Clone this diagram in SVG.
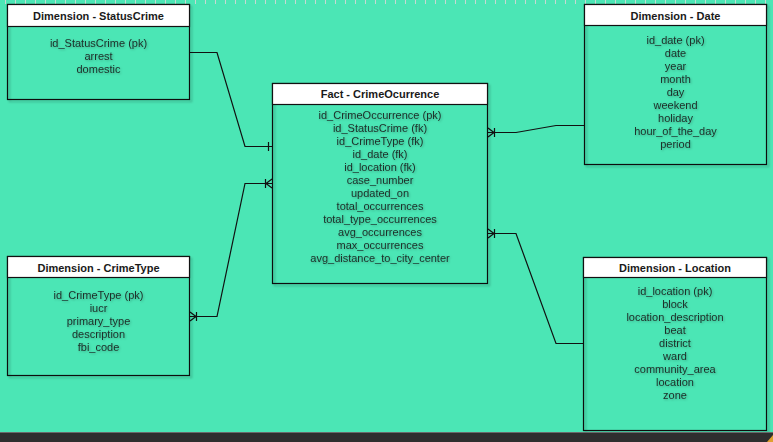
<svg xmlns="http://www.w3.org/2000/svg" width="773" height="442" viewBox="0 0 773 442">
<defs>
<filter id="sh" x="-10%" y="-10%" width="130%" height="130%">
<feDropShadow dx="2" dy="2" stdDeviation="1.2" flood-color="#000" flood-opacity="0.25"/>
</filter>
<filter id="tsh" x="-10%" y="-30%" width="120%" height="160%">
<feDropShadow dx="1" dy="1" stdDeviation="1" flood-color="#000" flood-opacity="0.25"/>
</filter>
</defs>
<style>
.box{fill:none;stroke:#111;stroke-width:1.2}
.hdr{fill:#fff;stroke:#111;stroke-width:1.2}
.ht{font-family:"Liberation Sans",Arial,sans-serif;font-size:11px;font-weight:bold;fill:#1a1a1a;text-anchor:middle}
.bt{font-family:"Liberation Sans",Arial,sans-serif;font-size:11px;fill:#1d2e28;text-anchor:middle}
.ln{fill:none;stroke:#111;stroke-width:1.2}
.tick{stroke:#c9d6d0;stroke-width:1}
</style>
<rect x="0" y="0" width="773" height="442" fill="#4be6b5"/>
<g id="ruler">
<path class="tick" d="M5.5 0v4M15.5 0v4M25.5 0v4M35.5 0v4M45.5 0v4M55.5 0v4M65.5 0v4M75.5 0v4M85.5 0v4M95.5 0v4M105.5 0v4M115.5 0v4M125.5 0v4M135.5 0v4M145.5 0v4M155.5 0v4M165.5 0v4M175.5 0v4M185.5 0v4M195.5 0v4M205.5 0v4M215.5 0v4M225.5 0v4M235.5 0v4M245.5 0v4M255.5 0v4M265.5 0v4M275.5 0v4M285.5 0v4M295.5 0v4M305.5 0v4M315.5 0v4M325.5 0v4M335.5 0v4M345.5 0v4M355.5 0v4M365.5 0v4M375.5 0v4M385.5 0v4M395.5 0v4M405.5 0v4M415.5 0v4M425.5 0v4M435.5 0v4M445.5 0v4M455.5 0v4M465.5 0v4M475.5 0v4M485.5 0v4M495.5 0v4M505.5 0v4M515.5 0v4M525.5 0v4M535.5 0v4M545.5 0v4M555.5 0v4M565.5 0v4M575.5 0v4M585.5 0v4M595.5 0v4M605.5 0v4M615.5 0v4M625.5 0v4M635.5 0v4M645.5 0v4M655.5 0v4M665.5 0v4M675.5 0v4M685.5 0v4M695.5 0v4M705.5 0v4M715.5 0v4M725.5 0v4M735.5 0v4M745.5 0v4M755.5 0v4M765.5 0v4"/>
</g>

<g id="connectors">
<!-- StatusCrime to Fact -->
<path class="ln" d="M190 52.5H217L245 146.5H272"/>
<path class="ln" d="M268.5 142V151"/>
<!-- CrimeType to Fact -->
<path class="ln" d="M190 316.5H217L245 183.5H272"/>
<path class="ln" d="M266 183.5L272 179M266 183.5L272 188M265.5 179V188"/>
<path class="ln" d="M196 316.5L190 312M196 316.5L190 321M196.5 312V321"/>
<!-- Fact to Date -->
<path class="ln" d="M488 132.5H516L556 125.5H584"/>
<path class="ln" d="M494 132.5L488 128M494 132.5L488 137M494.5 128V137"/>
<!-- Fact to Location -->
<path class="ln" d="M488 233.5H516L556 343.5H583"/>
<path class="ln" d="M494 233.5L488 229M494 233.5L488 238M494.5 229V238"/>
</g>

<g id="statuscrime">
<rect class="box" x="7.5" y="4.5" width="182" height="95" filter="url(#sh)"/>
<rect class="hdr" x="7.5" y="4.5" width="182" height="22"/>
<text class="ht" x="98.5" y="20">Dimension - StatusCrime</text>
<g class="bt" filter="url(#tsh)">
<text x="98.5" y="47">id_StatusCrime (pk)</text>
<text x="98.5" y="60">arrest</text>
<text x="98.5" y="73">domestic</text>
</g>
</g>

<g id="fact">
<rect class="box" x="272.5" y="83.5" width="215" height="200" filter="url(#sh)"/>
<rect class="hdr" x="272.5" y="83.5" width="215" height="21"/>
<text class="ht" x="380" y="98">Fact - CrimeOcurrence</text>
<g class="bt" filter="url(#tsh)">
<text x="380" y="119">id_CrimeOccurrence (pk)</text>
<text x="380" y="132">id_StatusCrime (fk)</text>
<text x="380" y="145">id_CrimeType (fk)</text>
<text x="380" y="158">id_date (fk)</text>
<text x="380" y="171">id_location (fk)</text>
<text x="380" y="184">case_number</text>
<text x="380" y="197">updated_on</text>
<text x="380" y="210">total_occurrences</text>
<text x="380" y="223">total_type_occurrences</text>
<text x="380" y="236">avg_occurrences</text>
<text x="380" y="249">max_occurrences</text>
<text x="380" y="262">avg_distance_to_city_center</text>
</g>
</g>

<g id="date">
<rect class="box" x="584.5" y="4.5" width="182" height="160" filter="url(#sh)"/>
<rect class="hdr" x="584.5" y="4.5" width="182" height="21"/>
<text class="ht" x="675.5" y="19.5">Dimension - Date</text>
<g class="bt" filter="url(#tsh)">
<text x="675.5" y="44">id_date (pk)</text>
<text x="675.5" y="57">date</text>
<text x="675.5" y="70">year</text>
<text x="675.5" y="83">month</text>
<text x="675.5" y="96">day</text>
<text x="675.5" y="109">weekend</text>
<text x="675.5" y="122">holiday</text>
<text x="675.5" y="135">hour_of_the_day</text>
<text x="675.5" y="148">period</text>
</g>
</g>

<g id="crimetype">
<rect class="box" x="7.5" y="256.5" width="182" height="119" filter="url(#sh)"/>
<rect class="hdr" x="7.5" y="256.5" width="182" height="21"/>
<text class="ht" x="98.5" y="271.5">Dimension - CrimeType</text>
<g class="bt" filter="url(#tsh)">
<text x="98.5" y="299">id_CrimeType (pk)</text>
<text x="98.5" y="312">iucr</text>
<text x="98.5" y="325">primary_type</text>
<text x="98.5" y="338">description</text>
<text x="98.5" y="351">fbi_code</text>
</g>
</g>

<g id="location">
<rect class="box" x="583.5" y="257.5" width="183" height="173" filter="url(#sh)"/>
<rect class="hdr" x="583.5" y="257.5" width="183" height="20"/>
<text class="ht" x="675" y="271.5">Dimension - Location</text>
<g class="bt" filter="url(#tsh)">
<text x="675" y="295">id_location (pk)</text>
<text x="675" y="308">block</text>
<text x="675" y="321">location_description</text>
<text x="675" y="334">beat</text>
<text x="675" y="347">district</text>
<text x="675" y="360">ward</text>
<text x="675" y="373">community_area</text>
<text x="675" y="386">location</text>
<text x="675" y="399">zone</text>
</g>
</g>

<g id="statusbar">
<rect x="0" y="432" width="773" height="10" fill="#2e2e2e"/>
<rect x="0" y="432" width="773" height="1" fill="#6a6a6a"/>
<path d="M773 435L767 442H773Z" fill="#e0a030"/>
</g>
</svg>
